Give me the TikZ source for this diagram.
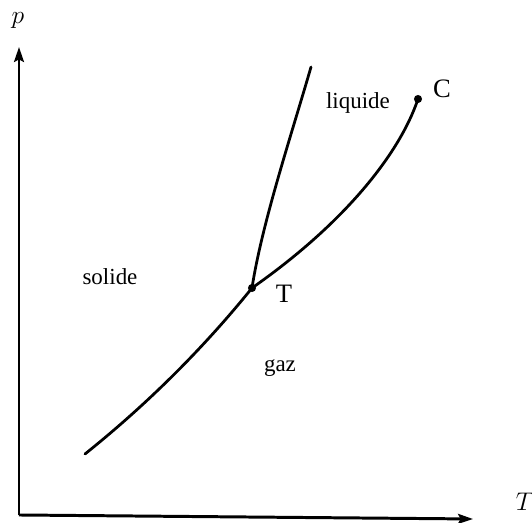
\documentclass[tikz,border=0pt]{standalone}
\usepackage{fontspec}
\setmainfont{Liberation Serif}
\usetikzlibrary{arrows.meta}

\begin{document}
\begin{tikzpicture}[x=0.47pt, y=0.47pt,
  axis/.style={line width=1.4pt, -{Stealth[length=7pt, width=4.6pt, inset=1.2pt]}},
  curve/.style={line width=1.3pt, line cap=round},
  region/.style={font=\fontsize{10.8}{13}\selectfont},
  ptlabel/.style={font=\fontsize{12.5}{15}\selectfont},
  axlabel/.style={font=\fontsize{13}{15}\selectfont}]
  \useasboundingbox (0,0) rectangle (532,523);

  % Axes
  \coordinate (O) at (19,8);
  \coordinate (ptop) at (19,476);
  \coordinate (Tend) at (473,4);
  \draw[axis] (O) -- (ptop);
  \draw[axis] (O) -- (Tend);
  \node[axlabel] (plab) at (18,503) {$p$};
  \node[axlabel] (Tlab) at (525,21) {$T$};

  % Triple point, critical point and end points
  \coordinate (A) at (85,69);
  \coordinate (Tp) at (252,235);
  \coordinate (Cp) at (418,424);
  \coordinate (M) at (311,456);

  % Sublimation, vaporisation and melting curves
  \draw[curve] (A) .. controls (145,117) and (202,173) .. (Tp);
  \draw[curve] (Tp) .. controls (345,300) and (400,370) .. (Cp);
  \draw[curve] (Tp) .. controls (262,300) and (292,390) .. (M);
  \fill (Tp) circle[radius=1.9pt];
  \fill (Cp) circle[radius=1.9pt];

  % Labels
  \node[ptlabel] (Tname) at (284,229) {T};
  \node[ptlabel] (Cname) at (442,434) {C};
  \node[region] (liq) at (358,420) {liquide};
  \node[region] (sol) at (110,246) {solide};
  \node[region] (gas) at (280,155) {gaz};
\end{tikzpicture}
\end{document}
